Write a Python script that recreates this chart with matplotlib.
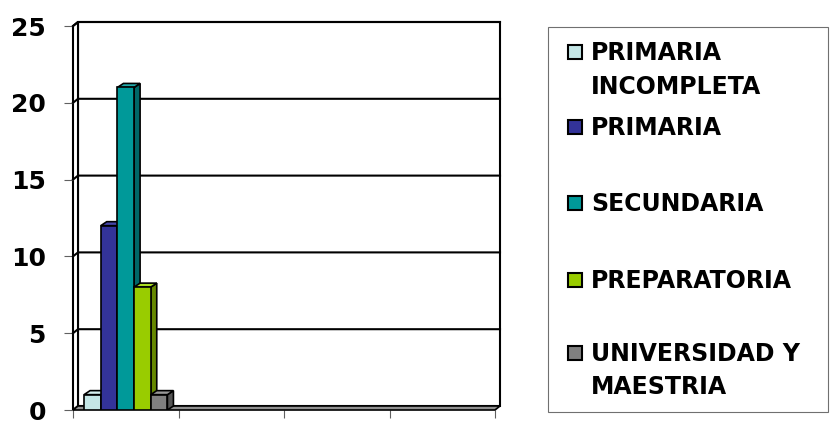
import matplotlib
matplotlib.use("Agg")
import matplotlib.pyplot as plt
from matplotlib.patches import Polygon, Rectangle

plt.rcParams['font.family'] = ['DejaVu Sans']
plt.rcParams['font.weight'] = 'bold'

# data
series = ["PRIMARIA\nINCOMPLETA", "PRIMARIA", "SECUNDARIA", "PREPARATORIA",
          "UNIVERSIDAD Y\nMAESTRIA"]
values = [1, 12, 21, 8, 1]
n_categories = 4
yticks = [0, 5, 10, 15, 20, 25]
face_colors = ["#C4E6E6", "#333399", "#009999", "#99CC00", "#808080"]
side_colors = ["#86AAAA", "#1F1F66", "#006666", "#668800", "#555555"]
top_colors = ["#D6F0F0", "#4545AA", "#20AAAA", "#AADD22", "#999999"]

W, H = 835, 421
fig = plt.figure(figsize=(W / 100, H / 100), dpi=100)
ax = fig.add_axes([73 / W, 11 / H, 422 / W, 384 / H])
ax.set_xlim(0, n_categories)
ax.set_ylim(0, 25)
for s in ax.spines.values():
    s.set_visible(False)

# depth offsets of the fake 3d box, in data units
dx = 5 / 105.5
dy = 4 / 15.36
top = 25

# back wall and left wall
ax.add_patch(Polygon([(dx, dy), (n_categories + dx, dy), (n_categories + dx, top + dy),
                      (dx, top + dy)], closed=True, facecolor="white",
                     edgecolor="black", lw=1.5, clip_on=False, zorder=1))
ax.add_patch(Polygon([(0, 0), (dx, dy), (dx, top + dy), (0, top)], closed=True,
                     facecolor="white", edgecolor="black", lw=1.5, clip_on=False, zorder=1))
# gridlines on the walls
for v in yticks[1:]:
    ax.plot([0, dx, n_categories + dx], [v, v + dy, v + dy], color="black", lw=1.5,
            clip_on=False, zorder=2, solid_joinstyle="miter")
# floor
ax.add_patch(Polygon([(0, 0), (n_categories, 0), (n_categories + dx, dy), (dx, dy)],
                     closed=True, facecolor="#909090", edgecolor="black", lw=1.2,
                     clip_on=False, zorder=3))

# bars (all in the first category)
gap = 0.105
bw = 0.158
bdx = 6 / 105.5
bdy = 4 / 15.36
for i, v in enumerate(values):
    x0 = gap + i * bw
    ax.bar(x0, v, width=bw, align="edge", color=face_colors[i], edgecolor="black",
           lw=1.2, zorder=5 + i)
    ax.add_patch(Polygon([(x0 + bw, 0), (x0 + bw + bdx, bdy), (x0 + bw + bdx, v + bdy),
                          (x0 + bw, v)], closed=True, facecolor=side_colors[i],
                         edgecolor="black", lw=1.2, zorder=4 + i))
    ax.add_patch(Polygon([(x0, v), (x0 + bw, v), (x0 + bw + bdx, v + bdy),
                          (x0 + bdx, v + bdy)], closed=True, facecolor=top_colors[i],
                         edgecolor="black", lw=1.2, zorder=4 + i))

ax.set_yticks(yticks)
ax.set_yticklabels([str(t) for t in yticks], fontsize=18, fontweight="bold")
ax.tick_params(axis="y", length=6.5, width=0.8, color="#606060", pad=13)
ax.set_xticks(range(n_categories + 1))
ax.set_xticklabels([])
ax.tick_params(axis="x", length=6, width=0.8, color="#606060")

# legend box drawn in figure pixels
fig.patches.append(Rectangle((548 / W, 1 - 412 / H), (828 - 548) / W, (412 - 27) / H,
                             transform=fig.transFigure, facecolor="white",
                             edgecolor="#707070", lw=0.8))
first_line_y = [52, 127, 203, 280, 353]
for i, lab in enumerate(series):
    yc = first_line_y[i]
    fig.patches.append(Rectangle((568 / W, 1 - (yc + 7) / H), 14 / W, 14 / H,
                                 transform=fig.transFigure, facecolor=face_colors[i],
                                 edgecolor="black", lw=1.5))
    fig.text(591 / W, 1 - (yc - 11) / H, lab, fontsize=17, fontweight="bold",
             ha="left", va="top", linespacing=1.5)

fig.savefig("out.png", dpi=100)
